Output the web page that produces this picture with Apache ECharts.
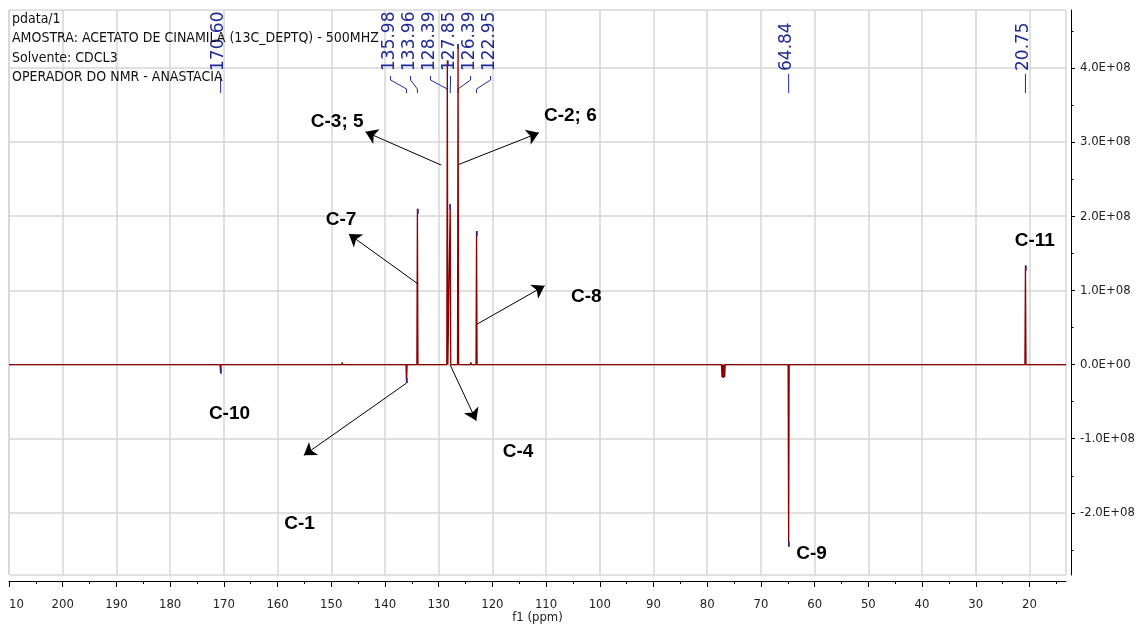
<!DOCTYPE html>
<html><head><meta charset="utf-8">
<script src="https://cdn.jsdelivr.net/npm/echarts@6/dist/echarts.min.js"></script>
<style>html,body{margin:0;padding:0;background:#fff}#c{width:1138px;height:626px}</style>
</head><body><div id="c"></div>
<script>
// ---------- data ----------
const xMin = 13.2, xMax = 210;
const yMin = -2.837e8, yMax = 4.78e8;
const xTickValues = [20,30,40,50,60,70,80,90,100,110,120,130,140,150,160,170,180,190,200,210];
const xMinorValues = [15,25,35,45,55,65,75,85,95,105,115,125,135,145,155,165,175,185,195,205];
const yTickValues = [-2e8,-1e8,0,1e8,2e8,3e8,4e8];
const yMinorValues = [-2.5e8,-1.5e8,-0.5e8,0.5e8,1.5e8,2.5e8,3.5e8,4.5e8];

const peakPpm    = [170.60, 147.95, 135.98, 133.96, 128.39, 127.85, 126.39, 124.00, 122.95, 77.25, 77.00, 76.75, 64.84, 20.75];
const peakHeight = [-0.12e8, 0.03e8, -0.25e8, 2.10e8, 4.10e8, 2.16e8, 4.32e8, 0.03e8, 1.80e8, -0.17e8, -0.18e8, -0.17e8, -2.455e8, 1.335e8];
const peakHalfWidth = 0.1;

const labelPpm = [170.60, 135.98, 133.96, 128.39, 127.85, 126.39, 122.95, 64.84, 20.75];
const labelText = ['170.60','135.98','133.96','128.39','127.85','126.39','122.95','64.84','20.75'];
const clusterIdx = [1,2,3,4,5,6];

const headerLines = ['pdata/1','AMOSTRA: ACETATO DE CINAMILA (13C_DEPTQ) - 500MHZ','Solvente: CDCL3','OPERADOR DO NMR - ANASTACIA'];

const annoText = ['C-3; 5','C-2; 6','C-7','C-8','C-10','C-1','C-4','C-9','C-11'];
const annoPpm  = [148.89, 105.48, 148.18, 102.51, 168.95, 155.91, 115.21, 60.56, 19.02];
const annoVal  = [3.272e8, 3.358e8, 1.947e8, 0.914e8, -0.658e8, -2.140e8, -1.175e8, -2.544e8, 1.670e8];

// arrows: from -> to (arrow head at "to")
const arrowFromPpm = [129.52, 126.24, 133.81, 122.82, 136.04, 127.85];
const arrowFromVal = [2.689e8, 2.698e8, 1.085e8, 0.546e8, -0.253e8, -0.007e8];
const arrowToPpm   = [143.64, 111.34, 146.73, 110.28, 155.11, 123.00];
const arrowToVal   = [3.137e8, 3.124e8, 1.759e8, 1.062e8, -1.224e8, -0.757e8];

// ---------- build ----------
const spectrum = [[xMax, 0]];
peakPpm.forEach((p, i) => {
  spectrum.push([p + peakHalfWidth, 0]);
  spectrum.push([p, peakHeight[i]]);
  spectrum.push([p - peakHalfWidth, 0]);
});
spectrum.push([xMin, 0]);

const tipLines = labelPpm.map(p => {
  const h = peakHeight[peakPpm.indexOf(p)];
  const s = h > 0 ? 1 : -1;
  return [{coord: [p, h]}, {coord: [p, h - s * Math.min(0.07e8, Math.abs(h) * 0.6)]}];
});

function sci(v) {
  if (Math.abs(v) < 1) return '0.0E+00';
  const e = Math.floor(Math.log10(Math.abs(v)) + 1e-9);
  const m = v / Math.pow(10, e);
  return m.toFixed(1) + 'E' + (e < 0 ? '-' : '+') + String(Math.abs(e)).padStart(2, '0');
}

const FONT = '"DejaVu Sans Condensed", "Liberation Sans", sans-serif';
const BLUE = '#1f2a96';
const RED = '#8b0000';
const GRIDC = '#d6d6d6';

const chart = echarts.init(document.getElementById('c'));
const option = {
  animation: false,
  backgroundColor: '#fff',
  grid: {left: 9, right: 72, top: 10, bottom: 51, show: true, borderColor: '#c4c4c4', borderWidth: 1,
    containLabel: false, outerBoundsMode: 'none'},
  xAxis: [{
    type: 'value', min: xMin, max: xMax, inverse: true, position: 'bottom', offset: 6,
    axisLine: {show: true, onZero: false, lineStyle: {color: '#000', width: 1}},
    axisTick: {show: true, inside: false, length: 6, customValues: xTickValues, lineStyle: {color: '#000'}},
    axisLabel: {customValues: xTickValues, margin: 17, fontFamily: FONT, fontSize: 13, color: '#222',
      formatter: v => (v === 210 ? '10' : String(v)), alignMaxLabel: 'left'},
    splitLine: {show: true, lineStyle: {color: GRIDC, width: 1.5}},
    name: 'f1 (ppm)', nameLocation: 'middle', nameGap: 30, nameMoveOverlap: false,
    nameTextStyle: {fontFamily: FONT, fontSize: 13, color: '#222'}
  }, {
    type: 'value', min: xMin, max: xMax, inverse: true, position: 'bottom', offset: 6,
    axisLine: {show: false, onZero: false},
    axisTick: {show: true, length: 3, customValues: xMinorValues, lineStyle: {color: '#000'}},
    axisLabel: {show: false}, splitLine: {show: false}
  }],
  yAxis: [{
    type: 'value', min: yMin, max: yMax, position: 'right', offset: 5,
    axisLine: {show: true, onZero: false, lineStyle: {color: '#000', width: 1}},
    axisTick: {show: true, length: 4, customValues: yTickValues, lineStyle: {color: '#000'}},
    axisLabel: {customValues: yTickValues, margin: 9, fontFamily: FONT, fontSize: 13, color: '#222', formatter: sci},
    splitLine: {show: true, lineStyle: {color: GRIDC, width: 1.5}}
  }, {
    type: 'value', min: yMin, max: yMax, position: 'right', offset: 5,
    axisLine: {show: false, onZero: false},
    axisTick: {show: true, length: 2.5, customValues: yMinorValues, lineStyle: {color: '#000'}},
    axisLabel: {show: false}, splitLine: {show: false}
  }],
  series: [{
    type: 'line', xAxisIndex: 0, yAxisIndex: 0, data: spectrum, symbol: 'none', showSymbol: false,
    lineStyle: {color: RED, width: 1.3}, silent: true, z: 3,
    markLine: {
      silent: true, symbol: ['none', 'arrow'], symbolSize: 12,
      label: {show: false}, lineStyle: {color: '#000', width: 1, type: 'solid'},
      itemStyle: {color: '#000'},
      data: arrowFromPpm.map((p, i) => [{coord: [p, arrowFromVal[i]]}, {coord: [arrowToPpm[i], arrowToVal[i]]}])
    },
    markPoint: {
      silent: true, symbol: 'circle', symbolSize: 1, itemStyle: {color: 'rgba(0,0,0,0)'},
      label: {show: true, position: 'inside', formatter: '{b}', fontFamily: '"Liberation Sans", Arial, sans-serif',
        fontSize: 19, fontWeight: 'bold', color: '#000'},
      data: annoText.map((t, i) => ({name: t, coord: [annoPpm[i], annoVal[i]]}))
    }
  }, {
    type: 'line', xAxisIndex: 0, yAxisIndex: 0, data: [], symbol: 'none', silent: true, z: 4,
    markLine: {silent: true, symbol: ['none', 'none'], label: {show: false},
      lineStyle: {color: '#2a2aa8', width: 1.5, type: 'solid'}, data: tipLines}
  }]
};
chart.setOption(option);

// peak labels at the top
const g = [];
const px = p => chart.convertToPixel({xAxisIndex: 0}, p);
const cFirst = px(labelPpm[clusterIdx[0]]), cLast = px(labelPpm[clusterIdx[clusterIdx.length - 1]]);
const cCenter = (cFirst + cLast) / 2 - 2;
labelPpm.forEach((p, i) => {
  const peakX = px(p);
  const k = clusterIdx.indexOf(i);
  let lx;
  if (k >= 0) {
    lx = cCenter + (k - (clusterIdx.length - 1) / 2) * 20;
    g.push({type: 'polyline', silent: true, shape: {points: [[lx + 1, 76], [lx + 1, 80], [peakX, 89], [peakX, 93]]},
      style: {stroke: BLUE, lineWidth: 1, fill: null}});
  } else {
    lx = peakX - 2;
    g.push({type: 'line', silent: true, shape: {x1: peakX, y1: 74, x2: peakX, y2: 93}, style: {stroke: BLUE, lineWidth: 1}});
  }
  g.push({type: 'text', silent: true, x: lx, y: 71, rotation: Math.PI / 2,
    style: {text: labelText[i], fill: BLUE, font: '17px "DejaVu Sans", sans-serif',
      align: 'left', verticalAlign: 'middle', textAlign: 'left', textVerticalAlign: 'middle'}});
});
const headerY = [19.5, 38.5, 58, 77];
headerLines.forEach((t, i) => {
  g.push({type: 'text', silent: true, x: 12, y: headerY[i],
    style: {text: t, fill: '#111', font: '14px ' + FONT, align: 'left', verticalAlign: 'middle',
      textAlign: 'left', textVerticalAlign: 'middle'}});
});
chart.setOption({graphic: g});
</script>
</body></html>
